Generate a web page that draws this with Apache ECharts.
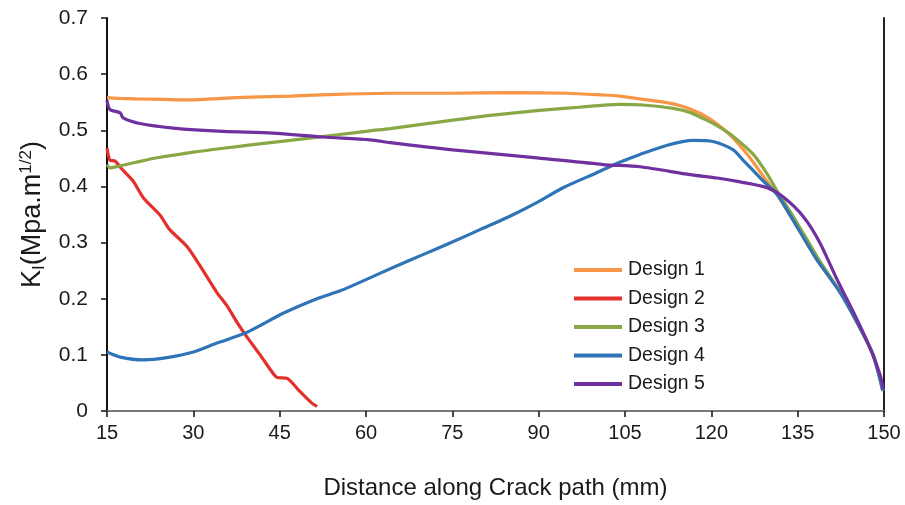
<!DOCTYPE html>
<html>
<head>
<meta charset="utf-8">
<script src="https://cdn.jsdelivr.net/npm/echarts@6/dist/echarts.min.js"></script>
<style>
  html, body { margin: 0; padding: 0; background: #fff; overflow: hidden; }
  #chart { width: 905px; height: 505px; }
</style>
</head>
<body>
<div id="chart"></div>
<script>
// Stress intensity factor K_I along the crack path, five designs
const seriesNames = ['Design 1', 'Design 2', 'Design 3', 'Design 4', 'Design 5'];
const seriesColors = ['#F79646', '#E3302A', '#88A845', '#2E74B6', '#7030A0'];

// [distance (mm), K_I (MPa.m^1/2)]
const design1 = [
  [15, 0.558], [17, 0.557], [20, 0.556], [25, 0.555], [29.4, 0.554], [35, 0.557],
  [40, 0.559], [46.8, 0.561], [55, 0.564], [64.2, 0.566], [75, 0.566], [85, 0.567],
  [95, 0.566], [101, 0.563], [104, 0.561], [107.6, 0.556], [113.4, 0.547],
  [116.5, 0.537], [119.2, 0.524], [121.5, 0.507], [123.8, 0.486], [126.7, 0.451],
  [129.6, 0.410], [131.4, 0.386], [134.2, 0.340], [138.3, 0.270], [142.4, 0.211],
  [145.3, 0.158], [148.1, 0.100], [149.8, 0.036]
];
const design2 = [
  [15, 0.468], [15.5, 0.447], [16.4, 0.445], [17.5, 0.432], [19.5, 0.410],
  [21.3, 0.380], [24.2, 0.349], [25.9, 0.323], [28.9, 0.293], [31.2, 0.258],
  [34.1, 0.211], [35.8, 0.188], [37.6, 0.158], [39.3, 0.132], [41.6, 0.100],
  [43.5, 0.072], [44.5, 0.060], [46.3, 0.058], [48.5, 0.035], [50.5, 0.015],
  [51.5, 0.008]
];
const design3 = [
  [15, 0.439], [15.5, 0.433], [17, 0.436], [20, 0.443], [23.7, 0.451], [30, 0.461],
  [35.2, 0.468], [40, 0.474], [46.8, 0.482], [55, 0.492], [60.7, 0.499], [64.2, 0.503],
  [70, 0.511], [75.1, 0.518], [82, 0.527], [89.7, 0.535], [97, 0.541], [104.1, 0.546],
  [108.1, 0.545], [113.4, 0.539], [116.5, 0.531], [119.2, 0.518], [121.5, 0.505],
  [123.8, 0.489], [127.3, 0.457], [129.9, 0.419], [131.6, 0.389], [134.5, 0.342],
  [138.5, 0.273], [142.4, 0.211], [145.3, 0.158], [148.1, 0.100], [149.8, 0.036]
];
const design4 = [
  [15, 0.105], [17.3, 0.096], [21.3, 0.091], [25.4, 0.095], [30, 0.105], [34.1, 0.121],
  [39.3, 0.140], [45.6, 0.174], [51.5, 0.200], [55.5, 0.214], [60, 0.234], [65, 0.257],
  [70, 0.279], [75, 0.301], [79.8, 0.323], [85, 0.347], [90, 0.373], [94.3, 0.398],
  [100, 0.424], [104.1, 0.443], [107.6, 0.457], [112.2, 0.473], [116.8, 0.482],
  [120.3, 0.480], [123.8, 0.465], [125.5, 0.447], [127.3, 0.428], [129, 0.410],
  [131.4, 0.386], [134.2, 0.340], [138.3, 0.270], [142.4, 0.211], [145.3, 0.158],
  [148.1, 0.100], [149.8, 0.036]
];
const design5 = [
  [15, 0.553], [15.5, 0.537], [17.3, 0.531], [17.8, 0.522], [20.7, 0.512], [26.5, 0.504],
  [35.2, 0.498], [43.8, 0.495], [52.5, 0.488], [60.7, 0.483], [64.2, 0.478],
  [75.1, 0.465], [89.7, 0.451], [101.2, 0.439], [107.6, 0.435], [116.3, 0.421],
  [121, 0.415], [125, 0.408], [129.6, 0.398], [132.5, 0.381], [136, 0.346],
  [138.9, 0.299], [141.8, 0.235], [144.7, 0.176], [147.6, 0.112], [149.3, 0.065],
  [149.9, 0.039]
];
const seriesData = [design1, design2, design3, design4, design5];

// Axis ranges and ticks
const xMin = 15, xMax = 150, xStep = 15;
const yMin = 0, yMax = 0.7, yStep = 0.1;

const FONT = '"Liberation Sans", Arial, sans-serif';
const chart = echarts.init(document.getElementById('chart'), null, { renderer: 'canvas' });

chart.setOption({
  animation: false,
  backgroundColor: '#ffffff',
  grid: { left: 107, right: 21, top: 18, bottom: 88, containLabel: false },
  legend: {
    orient: 'vertical',
    left: 574,
    top: 260,
    padding: 0,
    icon: 'rect',
    itemWidth: 48,
    itemHeight: 4,
    itemGap: 8.5,
    data: seriesNames,
    textStyle: { fontFamily: FONT, fontSize: 19.5, color: '#1a1a1a', lineHeight: 20, padding: [0, 0, 0, 1] }
  },
  xAxis: [{
    type: 'value',
    min: xMin, max: xMax, interval: xStep,
    name: 'Distance along Crack path (mm)',
    nameLocation: 'middle',
    nameGap: 65,
    nameTextStyle: { fontFamily: FONT, fontSize: 24, color: '#1a1a1a' },
    axisLine: { show: true, lineStyle: { color: '#111', width: 2 } },
    axisTick: { show: true, inside: false, length: 6, lineStyle: { color: '#111', width: 1.5 } },
    axisLabel: { fontFamily: FONT, fontSize: 20, color: '#1a1a1a', margin: 12 },
    splitLine: { show: false }
  }, {
    type: 'value', position: 'top',
    min: xMin, max: xMax,
    axisLine: { show: true, lineStyle: { color: '#9a9a9a', width: 1.5 } },
    axisTick: { show: false }, axisLabel: { show: false }, splitLine: { show: false }
  }],
  yAxis: [{
    type: 'value',
    min: yMin, max: yMax, interval: yStep,
    name: '{m|K}{s|I}{m|(Mpa.m}{p|1/2}{m|)}',
    nameLocation: 'middle',
    nameGap: 59,
    nameRotate: 90,
    nameTextStyle: {
      fontFamily: FONT, fontSize: 27, color: '#1a1a1a',
      rich: {
        m: { fontFamily: FONT, fontSize: 27, color: '#1a1a1a' },
        s: { fontFamily: FONT, fontSize: 17, color: '#1a1a1a', padding: [12, 0, 0, 0] },
        p: { fontFamily: FONT, fontSize: 17, color: '#1a1a1a', padding: [0, 0, 13, 0] }
      }
    },
    axisLine: { show: true, lineStyle: { color: '#111', width: 2 } },
    axisTick: { show: true, inside: false, length: 6, lineStyle: { color: '#111', width: 1.5 } },
    axisLabel: {
      fontFamily: FONT, fontSize: 21, color: '#1a1a1a', margin: 19,
      formatter: v => (v === 0 ? '0' : v.toFixed(1))
    },
    splitLine: { show: false }
  }, {
    type: 'value', position: 'right',
    min: yMin, max: yMax,
    axisLine: { show: true, lineStyle: { color: '#222', width: 2 } },
    axisTick: { show: false }, axisLabel: { show: false }, splitLine: { show: false }
  }],
  series: seriesNames.map((name, i) => ({
    name,
    type: 'line',
    xAxisIndex: 0,
    yAxisIndex: 0,
    data: seriesData[i],
    showSymbol: false,
    smooth: 0.25,
    clip: true,
    color: seriesColors[i],
    lineStyle: { width: 3.2, color: seriesColors[i] },
    z: 2 + i
  }))
});
</script>
</body>
</html>
